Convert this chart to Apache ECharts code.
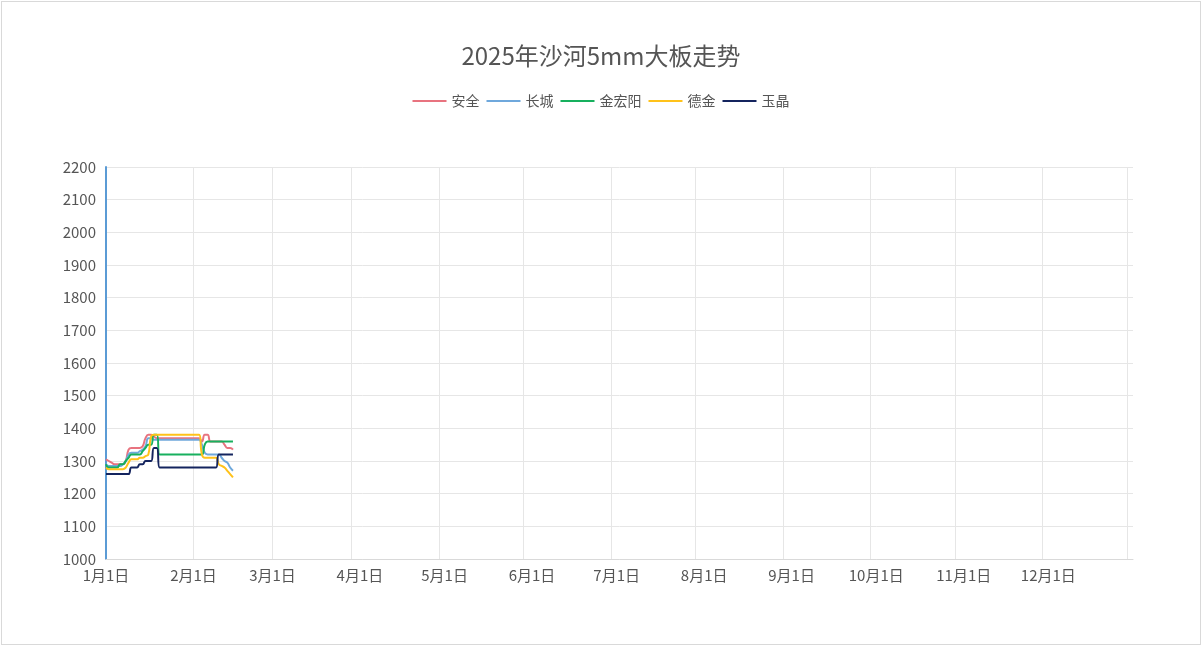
<!DOCTYPE html>
<html>
<head>
<meta charset="utf-8">
<script src="https://cdn.jsdelivr.net/npm/echarts@6/dist/echarts.min.js"></script>
<style>
  html, body { margin: 0; padding: 0; background: #fff; }
  #wrap { position: absolute; left: 1px; top: 1px; width: 1198px; height: 642px; border: 1px solid #d9d9d9; }
  #chart { width: 1198px; height: 642px; }
</style>
</head>
<body>
<div id="wrap"><div id="chart"></div></div>
<script>
// ---- data ----
const dates = [
  '2025-01-01','2025-01-02','2025-01-03','2025-01-04','2025-01-05','2025-01-06','2025-01-07','2025-01-08',
  '2025-01-09','2025-01-10','2025-01-11','2025-01-12','2025-01-13','2025-01-14','2025-01-15','2025-01-16',
  '2025-01-17','2025-01-18','2025-01-19','2025-01-20','2025-01-21','2025-01-22','2025-01-23','2025-01-24',
  '2025-01-25','2025-01-26','2025-01-27','2025-01-28','2025-01-29','2025-01-30','2025-01-31','2025-02-01',
  '2025-02-02','2025-02-03','2025-02-04','2025-02-05','2025-02-06','2025-02-07','2025-02-08','2025-02-09',
  '2025-02-10','2025-02-11','2025-02-12','2025-02-13','2025-02-14','2025-02-15'
];
const seriesNames = ['安全', '长城', '金宏阳', '德金', '玉晶'];
const anquan = [
  1305,1300,1295,1290,1290,1290,1290,1300,1335,1340,1340,1340,1340,1345,1370,1380,
  1380,1375,1370,1370,1370,1370,1370,1370,1370,1370,1370,1370,1370,1370,1370,1370,
  1370,1370,1360,1380,1380,1360,1360,1360,1360,1360,1350,1340,1340,1335
];
const changcheng = [
  1290,1285,1285,1285,1285,1285,1290,1300,1320,1325,1325,1325,1330,1335,1345,1370,
  1370,1365,1365,1365,1365,1365,1365,1365,1365,1365,1365,1365,1365,1365,1365,1365,
  1365,1365,1350,1325,1320,1320,1320,1320,1320,1310,1300,1295,1280,1270
];
const jinhongyang = [
  1290,1280,1280,1280,1280,1290,1290,1300,1310,1320,1320,1320,1320,1330,1340,1350,
  1350,1380,1380,1320,1320,1320,1320,1320,1320,1320,1320,1320,1320,1320,1320,1320,
  1320,1320,1320,1350,1360,1360,1360,1360,1360,1360,1360,1360,1360,1360
];
const dejin = [
  1280,1275,1275,1275,1275,1275,1275,1280,1295,1305,1305,1305,1310,1310,1315,1320,
  1375,1380,1380,1380,1380,1380,1380,1380,1380,1380,1380,1380,1380,1380,1380,1380,
  1380,1380,1320,1310,1310,1310,1310,1310,1290,1285,1280,1270,1260,1250
];
const yujing = [
  1260,1260,1260,1260,1260,1260,1260,1260,1260,1280,1280,1280,1290,1290,1300,1300,
  1300,1340,1340,1280,1280,1280,1280,1280,1280,1280,1280,1280,1280,1280,1280,1280,
  1280,1280,1280,1280,1280,1280,1280,1280,1320,1320,1320,1320,1320,1320
];
const seriesColors = ['#E8737F', '#6FA8DC', '#17B05E', '#FFC21A', '#14245E'];
const xRange = ['2025-01-01', '2025-12-31'];
const labelDates = [
  '2025-01-01','2025-02-01','2025-03-01','2025-04-01','2025-05-01','2025-06-01',
  '2025-07-01','2025-08-01','2025-09-01','2025-10-01','2025-11-01','2025-12-01'
];
const gridDates = [
  '2025-01-01','2025-02-01','2025-03-01','2025-03-29','2025-04-29','2025-05-29','2025-06-29',
  '2025-07-29','2025-08-29','2025-09-29','2025-10-29','2025-11-29','2025-12-29'
];
const yTicks = [1000,1100,1200,1300,1400,1500,1600,1700,1800,1900,2000,2100,2200];

// ---- helpers ----
function ts(s) {
  const p = s.split('-');
  return new Date(+p[0], +p[1] - 1, +p[2]).getTime();
}

// ---- chart ----
const allValues = [anquan, changcheng, jinhongyang, dejin, yujing];
const chart = echarts.init(document.getElementById('chart'));
const fontFamily = '"Noto Sans CJK SC", "Noto Sans", sans-serif';
chart.setOption({
  animation: false,
  textStyle: { fontFamily: fontFamily },
  title: {
    text: '2025年沙河5mm大板走势',
    left: 'center',
    top: 37,
    textStyle: { fontSize: 24, fontWeight: 'normal', color: '#555', fontFamily: fontFamily }
  },
  legend: {
    data: seriesNames,
    left: 'center',
    top: 87,
    icon: 'rect',
    itemWidth: 34,
    itemHeight: 2,
    itemGap: 7,
    textStyle: { fontSize: 14, color: '#555', fontFamily: fontFamily }
  },
  grid: { left: 104, right: 67, top: 165, bottom: 85, containLabel: false },
  xAxis: {
    type: 'value',
    min: ts(xRange[0]),
    max: ts(xRange[1]),
    axisLine: { lineStyle: { color: '#d9d9d9' } },
    axisTick: { show: false, customValues: gridDates.map(ts) },
    splitLine: { show: true, lineStyle: { color: '#e6e6e6' } },
    axisLabel: {
      customValues: labelDates.map(ts),
      color: '#555',
      fontSize: 15,
      margin: 9,
      fontFamily: fontFamily,
      formatter: function (v) {
        const d = new Date(v);
        return (d.getMonth() + 1) + '月' + d.getDate() + '日';
      }
    }
  },
  yAxis: {
    type: 'value',
    min: yTicks[0],
    max: yTicks[yTicks.length - 1],
    interval: 100,
    axisLine: { show: true, lineStyle: { color: '#5B9BD5', width: 2 } },
    axisTick: { show: false },
    splitLine: { show: true, lineStyle: { color: '#e6e6e6' } },
    axisLabel: {
      color: '#555', fontSize: 15, margin: 10, fontFamily: fontFamily,
      formatter: function (v) { return String(v); }
    }
  },
  series: seriesNames.map(function (name, i) {
    return {
      name: name,
      type: 'line',
      smooth: true,
      symbol: 'none',
      lineStyle: { width: 2, color: seriesColors[i] },
      itemStyle: { color: seriesColors[i] },
      data: dates.map(function (d, k) { return [ts(d), allValues[i][k]]; })
    };
  })
});
</script>
</body>
</html>
